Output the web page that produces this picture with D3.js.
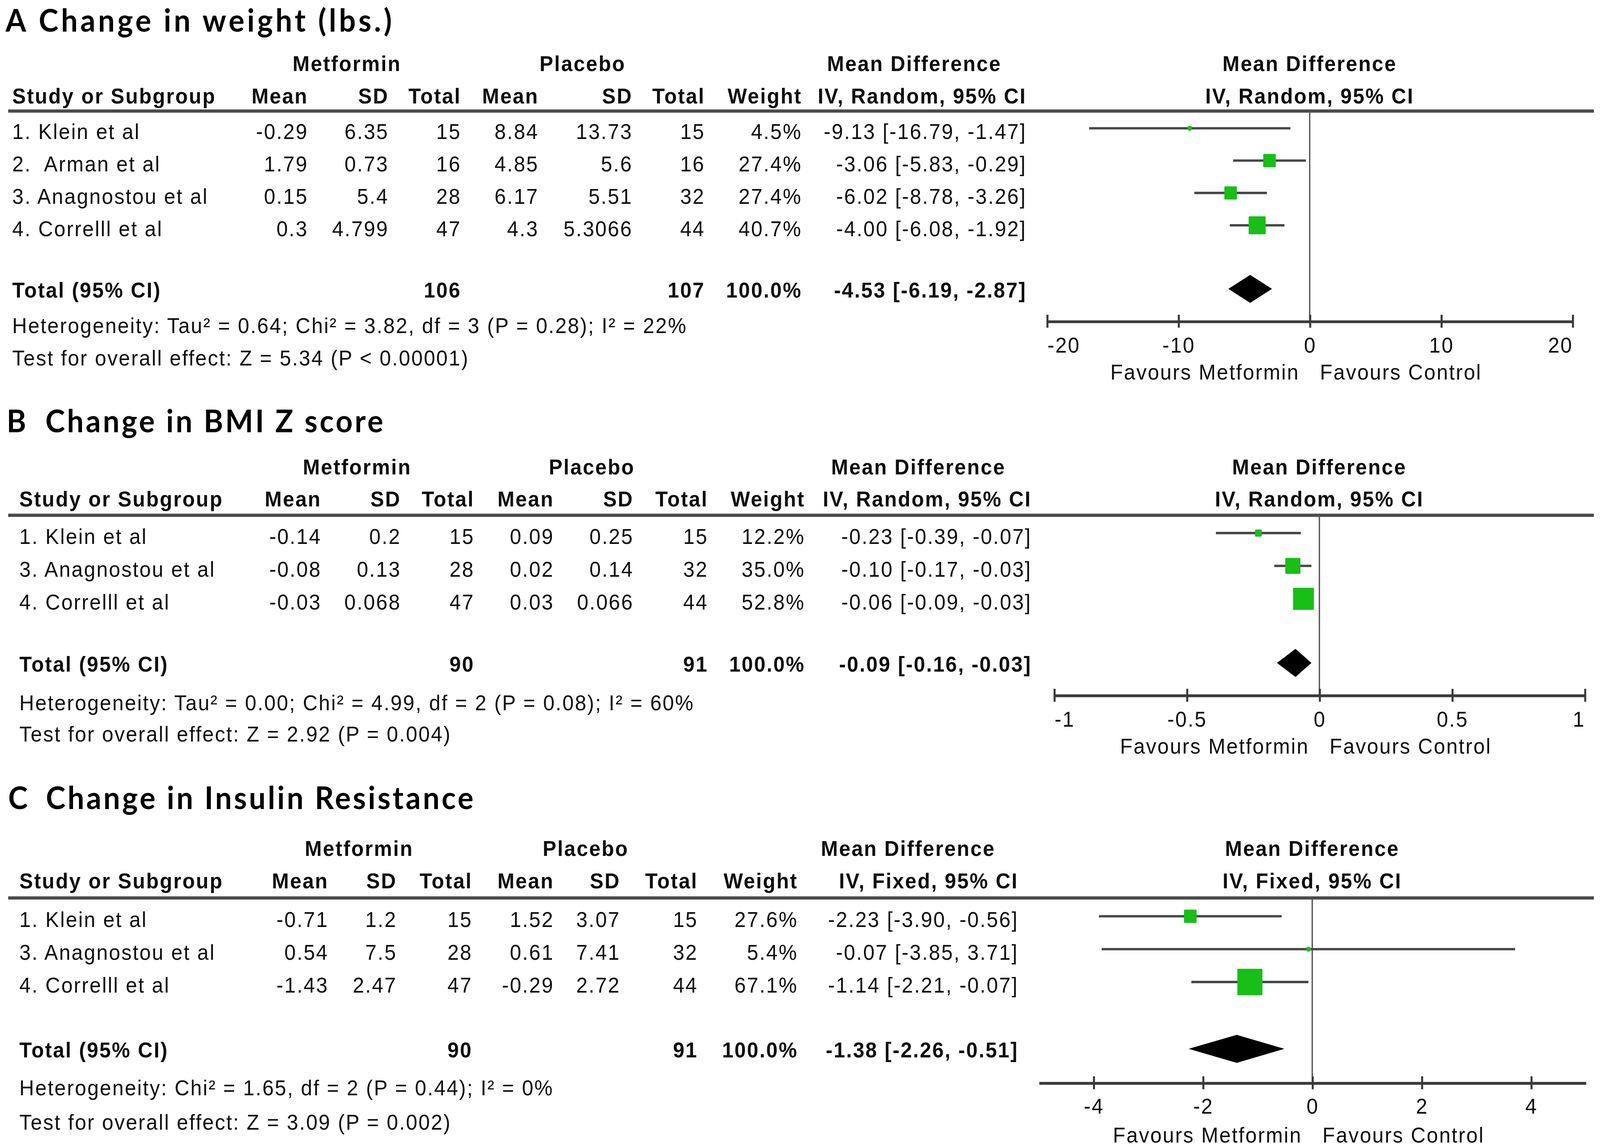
<!DOCTYPE html>
<html><head><meta charset="utf-8">
<script src="https://cdn.jsdelivr.net/npm/d3@7"></script>
<style>html,body{margin:0;padding:0;background:#fff;width:100%;height:100%;overflow:hidden;} svg{display:block;} text{white-space:pre;}</style>
</head><body>
<script>
// ---------------- DATA ----------------
// Panel A: Change in weight (lbs.)
const studiesA   = ["1. Klein et al", "2.  Arman et al", "3. Anagnostou et al", "4. Correlll et al"];
const metMeanA   = [-0.29, 1.79, 0.15, 0.3];
const metSDA     = [6.35, 0.73, 5.4, 4.799];
const metNA      = [15, 16, 28, 47];
const plaMeanA   = [8.84, 4.85, 6.17, 4.3];
const plaSDA     = [13.73, 5.6, 5.51, 5.3066];
const plaNA      = [15, 16, 32, 44];
const weightA    = [4.5, 27.4, 27.4, 40.7];
const mdA        = [-9.13, -3.06, -6.02, -4.00];
const loA        = [-16.79, -5.83, -8.78, -6.08];
const hiA        = [-1.47, -0.29, -3.26, -1.92];
const totalA     = {met: 106, pla: 107, weight: 100.0, md: -4.53, lo: -6.19, hi: -2.87};
const hetA       = "Heterogeneity: Tau² = 0.64; Chi² = 3.82, df = 3 (P = 0.28); I² = 22%";
const testA      = "Test for overall effect: Z = 5.34 (P < 0.00001)";
const domainA    = [-20, 20];
const ticksA     = [-20, -10, 0, 10, 20];

// Panel B: Change in BMI Z score
const studiesB   = ["1. Klein et al", "3. Anagnostou et al", "4. Correlll et al"];
const metMeanB   = [-0.14, -0.08, -0.03];
const metSDB     = [0.2, 0.13, 0.068];
const metNB      = [15, 28, 47];
const plaMeanB   = [0.09, 0.02, 0.03];
const plaSDB     = [0.25, 0.14, 0.066];
const plaNB      = [15, 32, 44];
const weightB    = [12.2, 35.0, 52.8];
const mdB        = [-0.23, -0.10, -0.06];
const loB        = [-0.39, -0.17, -0.09];
const hiB        = [-0.07, -0.03, -0.03];
const totalB     = {met: 90, pla: 91, weight: 100.0, md: -0.09, lo: -0.16, hi: -0.03};
const hetB       = "Heterogeneity: Tau² = 0.00; Chi² = 4.99, df = 2 (P = 0.08); I² = 60%";
const testB      = "Test for overall effect: Z = 2.92 (P = 0.004)";
const domainB    = [-1, 1];
const ticksB     = [-1, -0.5, 0, 0.5, 1];

// Panel C: Change in Insulin Resistance
const studiesC   = ["1. Klein et al", "3. Anagnostou et al", "4. Correlll et al"];
const metMeanC   = [-0.71, 0.54, -1.43];
const metSDC     = [1.2, 7.5, 2.47];
const metNC      = [15, 28, 47];
const plaMeanC   = [1.52, 0.61, -0.29];
const plaSDC     = [3.07, 7.41, 2.72];
const plaNC      = [15, 32, 44];
const weightC    = [27.6, 5.4, 67.1];
const mdC        = [-2.23, -0.07, -1.14];
const loC        = [-3.90, -3.85, -2.21];
const hiC        = [-0.56, 3.71, -0.07];
const totalC     = {met: 90, pla: 91, weight: 100.0, md: -1.38, lo: -2.26, hi: -0.51};
const hetC       = "Heterogeneity: Chi² = 1.65, df = 2 (P = 0.44); I² = 0%";
const testC      = "Test for overall effect: Z = 3.09 (P = 0.002)";
const domainC    = [-5, 5];
const ticksC     = [-4, -2, 0, 2, 4];

// ---------------- LAYOUT ----------------
const VW = 1568, VH = 1065;
const svg = d3.select("body").append("svg")
  .attr("width", "100%").attr("height", "100%")
  .style("width", "100vw").style("height", "100vh")
  .attr("viewBox", `0 0 ${VW} ${VH}`)
  .attr("preserveAspectRatio", "none");
svg.append("rect").attr("width", VW).attr("height", VH).attr("fill", "#fff");

const FONT = "'Liberation Sans', Arial, sans-serif";
const TFONT = "Lato, 'Open Sans', sans-serif";
const FS = 20, LS = 1.1, INK = "#0d0d0d";
const GREEN = "#17bf17";

const panels = [
  { letter: "A", title: "Change in weight (lbs.)", model: "IV, Random, 95% CI",
    studies: studiesA, metMean: metMeanA, metSD: metSDA, metN: metNA, plaMean: plaMeanA, plaSD: plaSDA, plaN: plaNA,
    weight: weightA, md: mdA, lo: loA, hi: hiA, total: totalA, het: hetA, test: testA, domain: domainA, ticks: ticksA,
    L: { titleY: 29.5, letterX: 5.5, titleX: 38, titleW: 346, h1: 66, h2: 96, line: 103, rowRange: [119, 209], totalY: 268,
         hetY: 309, testY: 339, axisY: 298, tickY: 327, favY: 352, studyX: 12,
         cols: [302, 381, 452, 528, 620, 691, 786, 1006], grp: [340, 571, 896], range: [1026, 1541] } },
  { letter: "B", title: "Change in BMI Z score", model: "IV, Random, 95% CI",
    studies: studiesB, metMean: metMeanB, metSD: metSDB, metN: metNB, plaMean: plaMeanB, plaSD: plaSDB, plaN: plaNB,
    weight: weightB, md: mdB, lo: loB, hi: hiB, total: totalB, het: hetB, test: testB, domain: domainB, ticks: ticksB,
    L: { titleY: 401, letterX: 6.5, titleX: 44.5, titleW: 331, h1: 440, h2: 470, line: 478, rowRange: [494.5, 555.5], totalY: 615,
         hetY: 659, testY: 688, axisY: 645, tickY: 674, favY: 699, studyX: 19,
         cols: [315, 393, 465, 543, 621, 694, 789, 1011], grp: [350, 580, 900], range: [1033, 1553] } },
  { letter: "C", title: "Change in Insulin Resistance", model: "IV, Fixed, 95% CI",
    studies: studiesC, metMean: metMeanC, metSD: metSDC, metN: metNC, plaMean: plaMeanC, plaSD: plaSDC, plaN: plaNC,
    weight: weightC, md: mdC, lo: loC, hi: hiC, total: totalC, het: hetC, test: testC, domain: domainC, ticks: ticksC,
    L: { titleY: 750.5, letterX: 8, titleX: 45, titleW: 419, h1: 794, h2: 824, line: 833, rowRange: [850, 911], totalY: 973,
         hetY: 1016, testY: 1048, axisY: 1004.5, tickY: 1033, favY: 1060, studyX: 19,
         cols: [322, 389, 463, 543, 608, 684, 782, 998], grp: [352, 574, 890], range: [1018, 1554] } }
];

const sizeScale = d3.scalePow().exponent(0.775).domain([0, 100]).range([0, 33.5]);
const fmtCI = (m, l, h) => `${m.toFixed(2)} [${l.toFixed(2)}, ${h.toFixed(2)}]`;

function drawPanel(p) {
  const L = p.L;
  const g = svg.append("g");
  const txt = (x, y, s, anchor, bold) => g.append("text")
    .attr("x", x).attr("y", y).attr("text-anchor", anchor || "start")
    .attr("xml:space", "preserve")
    .attr("font-family", FONT).attr("font-size", FS).attr("letter-spacing", LS)
    .attr("font-weight", bold ? 700 : 400).attr("fill", INK).text(s);

  // Title
  g.append("text").attr("x", L.letterX).attr("y", L.titleY).attr("font-family", TFONT)
    .attr("font-weight", 700).attr("font-size", 29).attr("fill", "#000").text(p.letter);
  g.append("text").attr("x", L.titleX).attr("y", L.titleY).attr("font-family", TFONT)
    .attr("font-weight", 700).attr("font-size", 29).attr("fill", "#000")
    .attr("textLength", L.titleW).attr("lengthAdjust", "spacing").text(p.title);

  const x = d3.scaleLinear().domain(p.domain).range(L.range);
  const x0 = x(0);

  // Group headers
  txt(L.grp[0], L.h1, "Metformin", "middle", true);
  txt(L.grp[1], L.h1, "Placebo", "middle", true);
  txt(L.grp[2], L.h1, "Mean Difference", "middle", true);
  txt(x0, L.h1, "Mean Difference", "middle", true);

  // Column headers
  txt(L.studyX, L.h2, "Study or Subgroup", "start", true);
  ["Mean", "SD", "Total", "Mean", "SD", "Total", "Weight", p.model].forEach((h, i) => txt(L.cols[i], L.h2, h, "end", true));
  txt(x0, L.h2, p.model, "middle", true);

  // Separator
  g.append("line").attr("x1", 8).attr("x2", 1562).attr("y1", L.line).attr("y2", L.line)
    .attr("stroke", "#4a4a4a").attr("stroke-width", 3);

  // Rows
  const y = d3.scalePoint().domain(p.studies).range(L.rowRange);
  p.studies.forEach((s, i) => {
    const ty = y(s) + 10;
    txt(L.studyX, ty, s);
    const vals = [String(p.metMean[i]), String(p.metSD[i]), String(p.metN[i]),
                  String(p.plaMean[i]), String(p.plaSD[i]), String(p.plaN[i]),
                  p.weight[i].toFixed(1) + "%", fmtCI(p.md[i], p.lo[i], p.hi[i])];
    vals.forEach((v, j) => txt(L.cols[j], ty, v, "end"));
  });

  // Total row
  const tt = L.totalY + 8;
  txt(L.studyX, tt, "Total (95% CI)", "start", true);
  txt(L.cols[2], tt, String(p.total.met), "end", true);
  txt(L.cols[5], tt, String(p.total.pla), "end", true);
  txt(L.cols[6], tt, p.total.weight.toFixed(1) + "%", "end", true);
  txt(L.cols[7], tt, fmtCI(p.total.md, p.total.lo, p.total.hi), "end", true);

  // Heterogeneity + test
  txt(L.studyX, L.hetY, p.het);
  txt(L.studyX, L.testY, p.test);

  // Forest: zero line
  g.append("line").attr("x1", x0).attr("x2", x0).attr("y1", L.line).attr("y2", L.axisY)
    .attr("stroke", "#555").attr("stroke-width", 1.3);

  // CI lines
  g.selectAll(".ci").data(p.studies).enter().append("line")
    .attr("x1", (d, i) => x(p.lo[i])).attr("x2", (d, i) => x(p.hi[i]))
    .attr("y1", d => y(d)).attr("y2", d => y(d))
    .attr("stroke", "#474747").attr("stroke-width", 2.2);

  // Squares
  const side = w => Math.max(4.5, sizeScale(w));
  g.selectAll(".sq").data(p.studies).enter().append("rect")
    .attr("x", (d, i) => x(p.md[i]) - side(p.weight[i]) / 2)
    .attr("y", (d, i) => y(d) - side(p.weight[i]) / 2)
    .attr("width", (d, i) => side(p.weight[i]))
    .attr("height", (d, i) => side(p.weight[i]))
    .attr("rx", (d, i) => sizeScale(p.weight[i]) < 6 ? 2 : 0.8)
    .attr("fill", GREEN);

  // Diamond
  const ty = L.totalY, hh = 13;
  const pts = [[x(p.total.lo), ty], [x(p.total.md), ty - hh], [x(p.total.hi), ty], [x(p.total.md), ty + hh]];
  g.append("path").attr("d", d3.line()(pts) + "Z").attr("fill", "#000");

  // Axis
  const axis = d3.axisBottom(x).tickValues(p.ticks).tickFormat(d => String(d)).tickSize(0).tickSizeOuter(0);
  const axg = g.append("g").attr("transform", `translate(0,${L.axisY})`).call(axis);
  axg.select(".domain").attr("stroke", "#3a3a3a").attr("stroke-width", 2.6);
  axg.selectAll(".tick line").attr("y1", -6).attr("y2", 6).attr("stroke", "#3a3a3a").attr("stroke-width", 2);
  axg.selectAll(".tick text")
    .attr("y", L.tickY - L.axisY).attr("dy", 0)
    .attr("font-family", FONT).attr("font-size", FS).attr("letter-spacing", LS).attr("fill", INK)
    .attr("text-anchor", d => d === p.domain[0] ? "start" : (d === p.domain[1] ? "end" : "middle"));

  // Favours labels
  txt(x0 - 10, L.favY, "Favours Metformin", "end");
  txt(x0 + 10, L.favY, "Favours Control", "start");
}

panels.forEach(drawPanel);
</script>
</body></html>
